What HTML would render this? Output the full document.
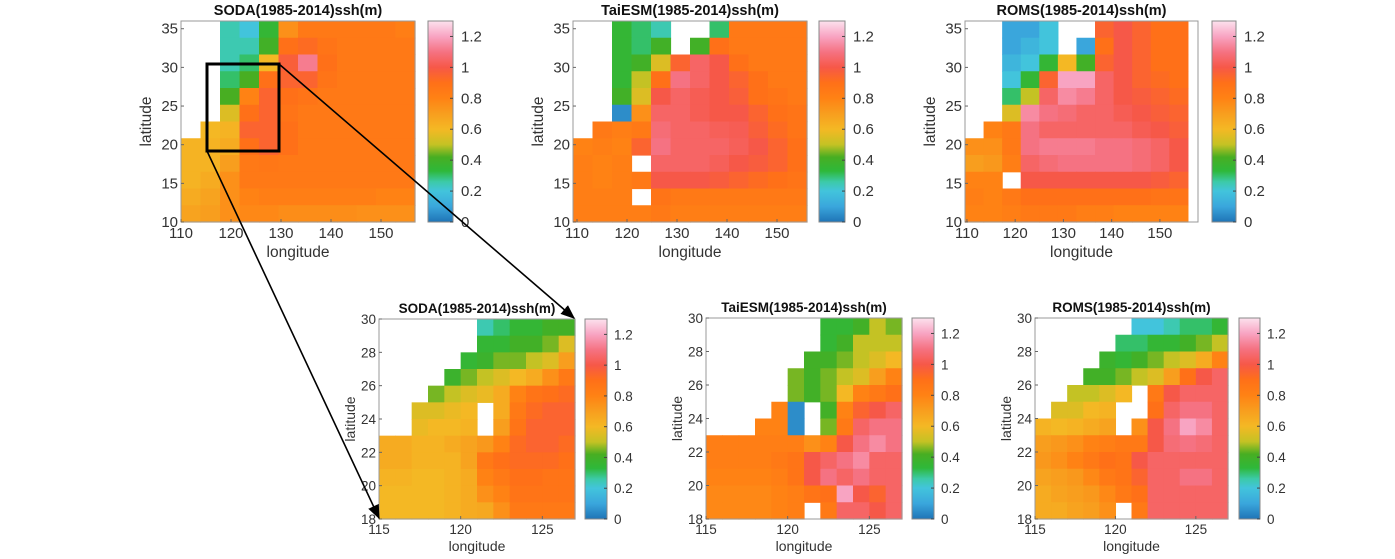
<!DOCTYPE html>
<html><head><meta charset="utf-8"><style>
html,body{margin:0;padding:0;background:#fff;}
svg{display:block;font-family:"Liberation Sans",sans-serif;}
</style></head><body>
<svg id="fig" width="1395" height="559" viewBox="0 0 1395 559">
<defs>
<marker id="ah" viewBox="0 0 10 10" refX="9" refY="5" markerWidth="9" markerHeight="9" orient="auto"><path d="M0,1 L10,5 L0,9 z" fill="#000"/></marker>
</defs>
</svg>
<script>
const N = null;
// colormap stops (value, color)
const cmapVals = [0, 0.1, 0.2, 0.26, 0.33, 0.42, 0.5, 0.6, 0.7, 0.8, 0.9, 1.0, 1.1, 1.2, 1.3];
const cmapCols = ["#1f74b6","#3aa6dc","#42c4dc","#3ccaa8","#2eb83a","#48ae22","#c4c224","#f4b824","#f89e1e","#ff8214","#ff7018","#f65848","#f57282","#f8a4c2","#fce2ee"];
const cbTicks = [0, 0.2, 0.4, 0.6, 0.8, 1.0, 1.2];
const cbTickLabels = ["0","0.2","0.4","0.6","0.8","1","1.2"];
const topLonTicks = [110,120,130,140,150];
const topLatTicks = [10,15,20,25,30,35];
const botLonTicks = [115,120,125];
const botLatTicks = [18,20,22,24,26,28,30];

const sodaTop = [
[N,N,0.25,0.2,0.35,0.75,0.85,0.85,0.85,0.85,0.85,0.82],
[N,N,0.25,0.25,0.4,0.9,0.92,0.88,0.85,0.85,0.85,0.85],
[N,N,0.25,0.3,0.6,0.97,1.12,0.9,0.85,0.85,0.85,0.85],
[N,N,0.3,0.42,0.9,0.95,0.95,0.88,0.85,0.85,0.85,0.85],
[N,N,0.42,0.8,0.95,0.9,0.88,0.85,0.85,0.85,0.85,0.85],
[N,N,0.55,0.9,0.95,0.88,0.85,0.85,0.85,0.85,0.85,0.85],
[N,0.6,0.62,0.95,0.95,0.9,0.85,0.85,0.85,0.85,0.85,0.85],
[0.62,0.62,0.65,0.9,0.95,0.9,0.85,0.85,0.85,0.85,0.85,0.85],
[0.62,0.62,0.7,0.85,0.86,0.85,0.85,0.85,0.85,0.85,0.85,0.85],
[0.62,0.65,0.75,0.85,0.85,0.85,0.85,0.85,0.85,0.85,0.85,0.85],
[0.65,0.68,0.75,0.8,0.82,0.82,0.82,0.82,0.82,0.82,0.8,0.8],
[0.68,0.7,0.75,0.78,0.78,0.76,0.76,0.76,0.76,0.75,0.75,0.75]];
const taiTop = [
[N,N,0.35,0.3,0.25,N,N,0.3,0.85,0.85,0.85,0.85],
[N,N,0.35,0.3,0.4,N,0.4,0.9,0.85,0.85,0.85,0.85],
[N,N,0.35,0.4,0.55,0.95,1.05,1.0,0.9,0.85,0.85,0.85],
[N,N,0.35,0.5,0.9,1.1,1.05,1.0,0.95,0.9,0.85,0.85],
[N,N,0.4,0.55,1.0,1.05,1.02,1.0,0.97,0.9,0.88,0.85],
[N,N,0.05,0.75,1.05,1.05,1.02,1.0,1.0,0.95,0.9,0.88],
[N,0.85,0.82,0.85,1.08,1.05,1.05,1.03,1.02,0.97,0.92,0.88],
[0.8,0.82,0.8,0.95,1.1,1.05,1.05,1.05,1.03,1.0,0.95,0.9],
[0.82,0.8,0.82,N,1.05,1.05,1.05,1.03,1.0,0.98,0.95,0.9],
[0.82,0.8,0.82,0.85,1.0,1.0,1.0,0.98,0.95,0.92,0.9,0.88],
[0.82,0.82,0.82,N,0.88,0.85,0.85,0.85,0.85,0.85,0.85,0.85],
[0.82,0.82,0.82,0.82,0.85,0.82,0.82,0.82,0.82,0.82,0.82,0.82]];
const romsTop = [
[N,N,0.1,0.1,0.2,N,N,0.95,1.0,0.95,0.9,0.9],
[N,N,0.1,0.15,0.2,N,0.1,0.9,1.0,0.95,0.9,0.9],
[N,N,0.15,0.2,0.35,0.6,0.4,0.95,1.0,0.95,0.9,0.9],
[N,N,0.2,0.35,0.95,1.2,1.2,1.05,1.0,0.95,0.92,0.9],
[N,N,0.3,0.5,1.05,1.15,1.12,1.05,1.0,0.98,0.95,0.92],
[N,N,0.55,1.15,1.1,1.08,1.05,1.05,1.02,1.0,0.97,0.95],
[N,0.8,0.85,1.1,1.05,1.05,1.05,1.05,1.05,1.02,1.0,0.97],
[0.75,0.75,0.85,1.1,1.12,1.12,1.12,1.1,1.1,1.08,1.05,1.0],
[0.7,0.72,0.82,1.05,1.08,1.1,1.1,1.1,1.1,1.08,1.05,1.0],
[0.8,0.8,N,1.0,1.0,1.0,1.0,1.0,1.0,1.0,0.98,0.95],
[0.82,0.8,0.85,0.9,0.9,0.9,0.9,0.9,0.9,0.9,0.88,0.88],
[0.8,0.8,0.82,0.85,0.85,0.85,0.82,0.82,0.8,0.8,0.8,0.8]];
const sodaZoom = [
[N,N,N,N,N,N,0.25,0.3,0.35,0.35,0.4,0.4],
[N,N,N,N,N,N,0.35,0.35,0.4,0.4,0.45,0.55],
[N,N,N,N,N,0.35,0.38,0.45,0.45,0.5,0.55,0.7],
[N,N,N,N,0.38,0.45,0.5,0.55,0.6,0.65,0.75,0.85],
[N,N,N,0.45,0.5,0.55,0.58,0.65,0.8,0.88,0.9,0.92],
[N,N,0.55,0.55,0.58,0.6,N,0.65,0.85,0.92,0.95,0.95],
[N,N,0.58,0.6,0.6,0.62,N,0.7,0.88,0.95,0.95,0.95],
[0.65,0.65,0.62,0.62,0.65,0.68,0.72,0.8,0.92,0.95,0.95,0.92],
[0.65,0.65,0.62,0.62,0.62,0.68,0.85,0.9,0.92,0.92,0.92,0.9],
[0.62,0.62,0.6,0.6,0.62,0.65,0.8,0.85,0.9,0.9,0.88,0.88],
[0.6,0.6,0.6,0.6,0.62,0.65,0.75,0.8,0.88,0.88,0.88,0.88],
[0.6,0.6,0.6,0.6,0.62,0.65,0.66,0.75,0.85,0.85,0.85,0.85]];
const taiZoom = [
[N,N,N,N,N,N,N,0.35,0.35,0.4,0.5,0.45],
[N,N,N,N,N,N,N,0.35,0.4,0.5,0.5,0.5],
[N,N,N,N,N,N,0.4,0.4,0.45,0.5,0.55,0.6],
[N,N,N,N,N,0.45,0.4,0.45,0.5,0.55,0.7,0.8],
[N,N,N,N,N,0.45,0.4,0.45,0.6,0.8,0.85,0.9],
[N,N,N,N,0.8,0.05,N,0.4,0.8,0.95,1.0,1.05],
[N,N,N,0.8,0.8,0.05,N,0.45,0.85,1.05,1.1,1.1],
[0.82,0.82,0.82,0.82,0.82,0.82,0.75,0.8,1.0,1.1,1.15,1.1],
[0.82,0.82,0.82,0.82,0.85,0.88,1.0,1.05,1.1,1.15,1.05,1.05],
[0.8,0.8,0.8,0.8,0.82,0.88,1.0,1.1,1.05,1.1,1.05,1.05],
[0.78,0.78,0.78,0.78,0.8,0.82,0.88,0.9,1.2,1.0,0.95,1.05],
[0.78,0.78,0.78,0.78,0.8,0.82,N,0.85,1.05,1.05,1.0,1.05]];
const romsZoom = [
[N,N,N,N,N,N,0.2,0.2,0.25,0.3,0.3,0.35],
[N,N,N,N,N,0.3,0.3,0.35,0.35,0.4,0.45,0.5],
[N,N,N,N,0.38,0.35,0.4,0.45,0.5,0.55,0.65,0.8],
[N,N,N,0.4,0.4,0.45,0.5,0.55,0.7,0.9,1.0,1.05],
[N,N,0.5,0.5,0.55,0.6,N,0.85,1.0,1.05,1.05,1.05],
[N,0.55,0.55,0.6,0.62,N,N,0.9,1.05,1.1,1.1,1.05],
[0.62,0.6,0.62,0.65,0.68,N,0.75,1.0,1.1,1.2,1.15,1.05],
[0.7,0.72,0.75,0.8,0.82,0.85,0.85,1.0,1.08,1.1,1.08,1.05],
[0.72,0.75,0.8,0.85,0.9,0.88,1.0,1.05,1.05,1.05,1.05,1.05],
[0.68,0.7,0.72,0.78,0.85,0.88,0.95,1.05,1.05,1.1,1.1,1.05],
[0.65,0.68,0.7,0.72,0.78,0.85,0.9,1.05,1.05,1.05,1.05,1.05],
[0.65,0.65,0.68,0.7,0.75,N,0.85,1.05,1.05,1.05,1.05,1.05]];

const svg = document.getElementById('fig');
const NS = 'http://www.w3.org/2000/svg';
function mk(tag, attrs, parent){const e=document.createElementNS(NS,tag);for(const k in attrs)e.setAttribute(k,attrs[k]);(parent||svg).appendChild(e);return e;}
function hex(c){return [parseInt(c.slice(1,3),16),parseInt(c.slice(3,5),16),parseInt(c.slice(5,7),16)];}
function cmap(v){
  if(v<=cmapVals[0])return cmapCols[0];
  for(let i=1;i<cmapVals.length;i++){if(v<=cmapVals[i]){const t=(v-cmapVals[i-1])/(cmapVals[i]-cmapVals[i-1]);const a=hex(cmapCols[i-1]),b=hex(cmapCols[i]);return 'rgb('+a.map((x,j)=>Math.round(x+(b[j]-x)*t)).join(',')+')';}}
  return cmapCols[cmapCols.length-1];
}
const defs = svg.querySelector('defs');
const lg = mk('linearGradient',{id:'cbg',x1:'0',y1:'1',x2:'0',y2:'0'},defs);
cmapVals.forEach((v,i)=>mk('stop',{offset:(v/1.3),'stop-color':cmapCols[i]},lg));

const panels = [
 {name:'soda-overview',title:'SODA(1985-2014)ssh(m)',grid:sodaTop,x0:181,x1:415,y0:21,y1:222,lonMin:110,lonMax:156.8,gLonMax:156.8,latMin:10,latMax:36,cx0:428,cx1:453,xt:topLonTicks,yt:topLatTicks,big:true},
 {name:'taiesm-overview',title:'TaiESM(1985-2014)ssh(m)',grid:taiTop,x0:573,x1:807,y0:21,y1:222,lonMin:109.2,lonMax:156,gLonMax:156,latMin:10,latMax:36,cx0:819,cx1:845,xt:topLonTicks,yt:topLatTicks,big:true},
 {name:'roms-overview',title:'ROMS(1985-2014)ssh(m)',grid:romsTop,x0:965,x1:1198,y0:21,y1:222,lonMin:109.6,lonMax:157.9,gLonMax:155.8,latMin:10,latMax:36,cx0:1212,cx1:1236,xt:topLonTicks,yt:topLatTicks,big:true},
 {name:'soda-zoom',title:'SODA(1985-2014)ssh(m)',grid:sodaZoom,x0:379,x1:575,y0:319,y1:519,lonMin:115,lonMax:127,gLonMax:127,latMin:18,latMax:30,cx0:585,cx1:607,xt:botLonTicks,yt:botLatTicks,big:false},
 {name:'taiesm-zoom',title:'TaiESM(1985-2014)ssh(m)',grid:taiZoom,x0:706,x1:902,y0:318,y1:519,lonMin:115,lonMax:127,gLonMax:127,latMin:18,latMax:30,cx0:912,cx1:934,xt:botLonTicks,yt:botLatTicks,big:false},
 {name:'roms-zoom',title:'ROMS(1985-2014)ssh(m)',grid:romsZoom,x0:1035,x1:1228,y0:318,y1:519,lonMin:115,lonMax:127,gLonMax:127,latMin:18,latMax:30,cx0:1239,cx1:1260,xt:botLonTicks,yt:botLatTicks,big:false}
];

panels.forEach(p=>{
  const fs = p.big?15:13.5;
  const g = mk('g',{});
  
  
  const X = lon=>p.x0+(lon-p.lonMin)/(p.lonMax-p.lonMin)*(p.x1-p.x0);
  const Y = lat=>p.y1-(lat-p.latMin)/(p.latMax-p.latMin)*(p.y1-p.y0);
  const rows=p.grid.length, cols=p.grid[0].length;
  const dLon=(p.gLonMax-p.lonMin)/cols, dLat=(p.latMax-p.latMin)/rows;
  const hm = mk('g',{},g);
  
  
  p.grid.forEach((row,r)=>row.forEach((v,c)=>{
    if(v===null)return;
    const xa=X(p.lonMin+c*dLon), xb=X(p.lonMin+(c+1)*dLon);
    const ya=Y(p.latMax-r*dLat), yb=Y(p.latMax-(r+1)*dLat);
    const cell = mk('rect',{x:xa,y:ya,width:xb-xa+0.6,height:yb-ya+0.6,fill:cmap(v)},hm);
    
    
  }));
  const fr = mk('rect',{x:p.x0,y:p.y0,width:p.x1-p.x0,height:p.y1-p.y0,fill:'none',stroke:'#999','stroke-width':1},g);
  
  
  const t = mk('text',{x:(p.x0+p.x1)/2,y:p.y0-6,'text-anchor':'middle','font-weight':'bold','font-size':p.big?14.5:13.5,fill:'#111'},g);
  t.textContent=p.title;
  
  
  p.xt.forEach(v=>{
    const tx = mk('text',{x:X(v),y:p.y1+(p.big?16:15),'text-anchor':'middle','font-size':fs,fill:'#333'},g);
    tx.textContent=v;
    
    
    mk('line',{x1:X(v),x2:X(v),y1:p.y1,y2:p.y1-3,stroke:'#666'},g);
  });
  p.yt.forEach(v=>{
    const ty = mk('text',{x:p.x0-3,y:Y(v)+5,'text-anchor':'end','font-size':fs,fill:'#333'},g);
    ty.textContent=v;
    
    
    mk('line',{x1:p.x0,x2:p.x0+3,y1:Y(v),y2:Y(v),stroke:'#666'},g);
  });
  const xl = mk('text',{x:(p.x0+p.x1)/2,y:p.y1+(p.big?35:32),'text-anchor':'middle','font-size':p.big?15.5:14,fill:'#333'},g);
  xl.textContent='longitude';
  
  
  const lx = p.big? p.x0-30 : p.x0-24;
  const yl = mk('text',{x:lx,y:(p.y0+p.y1)/2,'text-anchor':'middle','font-size':p.big?15.5:14,fill:'#333',transform:'rotate(-90 '+lx+' '+((p.y0+p.y1)/2)+')'},g);
  yl.textContent='latitude';
  
  
  const cb = mk('rect',{x:p.cx0,y:p.y0,width:p.cx1-p.cx0,height:p.y1-p.y0,fill:'url(#cbg)',stroke:'#888','stroke-width':1},g);
  
  
  const CY = v=>p.y1-v/1.3*(p.y1-p.y0);
  cbTicks.forEach((v,i)=>{
    mk('line',{x1:p.cx1-3,x2:p.cx1,y1:CY(v),y2:CY(v),stroke:'#444'},g);
    const ct = mk('text',{x:p.cx1+(p.big?8:7),y:CY(v)+5,'font-size':fs,fill:'#333'},g);
    ct.textContent=cbTickLabels[i];
    
    
  });
});
const box = mk('rect',{x:207,y:64,width:72,height:87,fill:'none',stroke:'#000','stroke-width':3});


const a1 = mk('line',{x1:279,y1:64,x2:574,y2:318,stroke:'#000','stroke-width':1.6,'marker-end':'url(#ah)'});


const a2 = mk('line',{x1:207,y1:151,x2:379,y2:518,stroke:'#000','stroke-width':1.6,'marker-end':'url(#ah)'});


</script>
</body></html>
